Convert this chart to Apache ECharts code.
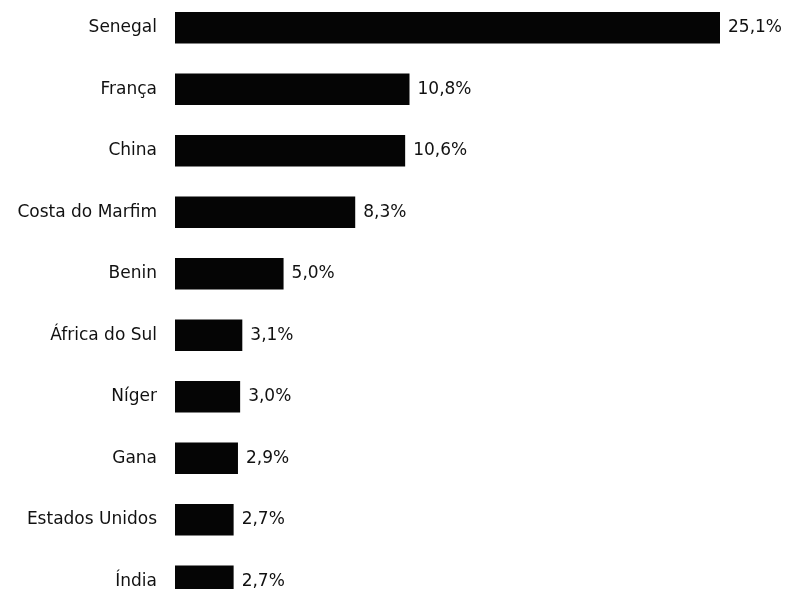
<!DOCTYPE html>
<html>
<head>
<meta charset="utf-8">
<script src="https://cdn.jsdelivr.net/npm/echarts@6/dist/echarts.min.js"></script>
<style>
  html, body { margin: 0; padding: 0; background: #fff; }
  #chart { width: 790px; height: 589px; }
</style>
</head>
<body>
<div id="chart"></div>
<script>
// Destination countries and their share (%)
const countries = ['Senegal', 'França', 'China', 'Costa do Marfim', 'Benin',
                   'África do Sul', 'Níger', 'Gana', 'Estados Unidos', 'Índia'];
const shares = [25.1, 10.8, 10.6, 8.3, 5.0, 3.1, 3.0, 2.9, 2.7, 2.7];

const chart = echarts.init(document.getElementById('chart'));
const font = '"DejaVu Sans", "Liberation Sans", Arial, sans-serif';

chart.setOption({
  animation: false,
  backgroundColor: '#ffffff',
  // the last row runs slightly past the bottom edge
  grid: {
    left: 175, width: 545, top: -3, height: 615,
    containLabel: false,
    outerBoundsMode: 'none'
  },
  xAxis: {
    type: 'value',
    min: 0,
    max: 25.1,
    show: false
  },
  yAxis: {
    type: 'category',
    data: countries,
    inverse: true,
    axisLine: { show: false },
    axisTick: { show: false },
    splitLine: { show: false },
    axisLabel: {
      margin: 18,
      color: '#111',
      fontFamily: font,
      fontSize: 17
    }
  },
  series: [{
    type: 'bar',
    data: shares,
    barWidth: '51%',
    itemStyle: { color: '#050505' },
    label: {
      show: true,
      position: 'right',
      distance: 8,
      color: '#111',
      fontFamily: font,
      fontSize: 17,
      formatter: p => p.value.toFixed(1).replace('.', ',') + '%'
    }
  }]
});
</script>
</body>
</html>
